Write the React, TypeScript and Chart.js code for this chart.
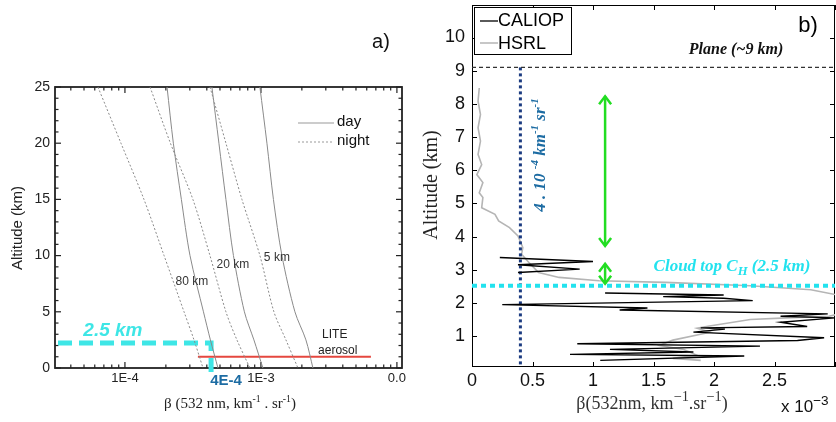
import React, { useEffect, useRef } from 'react';
import { Chart, registerables } from 'chart.js';

Chart.register(...registerables);

const SANS = '"Liberation Sans", Arial, sans-serif';
const SERIF = '"Liberation Serif", "Times New Roman", serif';

// ---------------- Panel a data ----------------
const altitudesA = [25, 20, 15, 10, 5, 2.5, 0];
const day80 = [2.04e-4, 2.27e-4, 2.6e-4, 3.01e-4, 3.78e-4, 4.25e-4, 4.83e-4];
const night80 = [6.33e-5, 9.35e-5, 1.38e-4, 1.94e-4, 2.72e-4, 3.22e-4, 3.75e-4];
const day20 = [4.36e-4, 4.91e-4, 5.53e-4, 6.28e-4, 7.56e-4, 8.88e-4, 1.034e-3];
const night20 = [1.53e-4, 2.16e-4, 3.16e-4, 4.22e-4, 5.53e-4, 6.66e-4, 8.3e-4];
const day5 = [9.83e-4, 1.107e-3, 1.236e-3, 1.427e-3, 1.778e-3, 2.142e-3, 2.412e-3];
const night5 = [4.22e-4, 5.53e-4, 7.25e-4, 9.83e-4, 1.246e-3, 1.527e-3, 1.871e-3];
const liteBeta = [3.44e-4, 6.44e-3];
const liteAlt = [1, 1];
const cloudTopBetaA = [3.22e-5, 4.3e-4, 4.3e-4];
const cloudTopAltA = [2.22, 2.22, -0.35];
const xTickLabelsA: Record<string, string> = { '-4': '1E-4', '-3': '1E-3', '-2': '0.0' };
const xMinA = 3.06e-5;
const xMaxA = 1.09e-2;
const yMinA = 0;
const yMaxA = 25;

// ---------------- Panel b data (beta in units of 1e-3) ----------------
const caliopBeta = [0.23, 1.0, 0.38, 0.89, 0.38, null, 1.1, 2.08, 1.58, 2.08, 2.32, 0.25, 1.45, 1.22, 2.94, 2.55, 3.0, 2.55, 2.77, 1.89, 2.09, 1.83, 2.91, 2.69, 0.87, 2.38, 1.14, 1.83, 0.81, 2.25, 1.06];
const caliopAlt = [3.37, 3.25, 3.15, 3.02, 2.92, null, 2.3, 2.24, 2.19, 2.14, 2.07, 1.95, 1.85, 1.79, 1.67, 1.6, 1.55, 1.42, 1.29, 1.25, 1.21, 1.12, 0.95, 0.87, 0.77, 0.7, 0.6, 0.52, 0.45, 0.4, 0.27];
const hsrlAlt = [8.48, 8.08, 7.68, 7.28, 6.88, 6.48, 6.17, 5.87, 5.63, 5.32, 5.18, 4.87, 4.67, 4.47, 4.27, 4.02, 3.67, 3.47, 3.22, 2.92, 2.77, 2.67, 2.62, 2.52, 2.4, 2.22, 1.95, 1.68, 1.6, 1.55, 1.5, 1.3, 1.24, 1.12, 0.88, 0.72, 0.6, 0.42, 0.33, 0.27];
const hsrlBeta = [0.06, 0.05, 0.07, 0.05, 0.07, 0.05, 0.08, 0.04, 0.09, 0.06, 0.09, 0.08, 0.19, 0.22, 0.31, 0.38, 0.42, 0.41, 0.47, 0.55, 0.72, 1.05, 1.6, 2.3, 2.8, 3.05, 3.3, 3.05, 2.95, 2.6, 2.3, 1.95, 1.86, 1.97, 1.66, 1.55, 1.75, 1.86, 1.66, 1.89];
const planeAlt = 9.1;
const cloudTopAltB = 2.52;
const thresholdBeta = 0.4;
const arrowBeta = 1.1;
const arrowLong = [3.72, 8.23];
const arrowShort = [2.58, 3.18];
const xTicksB = [0, 0.5, 1, 1.5, 2, 2.5, 3];
const yTicksB = [1, 2, 3, 4, 5, 6, 7, 8, 9, 10];
const xMinB = 0;
const xMaxB = 3;
const yMinB = 0.07;
const yMaxB = 10.98;

type Seg = { t: string; s?: 'sup' | 'sub' };

function drawRich(ctx: CanvasRenderingContext2D, segs: Seg[], x: number, y: number, size: number, family: string, style: string, align: 'center' | 'left', subScale = 0.65) {
  let w = 0;
  const parts = segs.map((seg) => {
    const sz = seg.s ? size * subScale : size;
    ctx.font = `${style} ${sz}px ${family}`;
    const mw = ctx.measureText(seg.t).width;
    w += mw;
    return { seg, sz, mw };
  });
  let cx = align === 'center' ? x - w / 2 : x;
  ctx.textAlign = 'left';
  ctx.textBaseline = 'alphabetic';
  for (const p of parts) {
    ctx.font = `${style} ${p.sz}px ${family}`;
    const dy = p.seg.s === 'sup' ? -size * 0.42 : p.seg.s === 'sub' ? size * 0.22 : 0;
    ctx.fillText(p.seg.t, cx, y + dy);
    cx += p.mw;
  }
}

function line(ctx: CanvasRenderingContext2D, x1: number, y1: number, x2: number, y2: number) {
  ctx.beginPath();
  ctx.moveTo(x1, y1);
  ctx.lineTo(x2, y2);
  ctx.stroke();
}

const pts = (xs: (number | null)[], ys: (number | null)[]) => xs.map((v, i) => ({ x: v, y: ys[i] }));

const noPad = (s: any) => {
  s.paddingTop = 0;
  s.paddingBottom = 0;
  s.paddingLeft = 0;
  s.paddingRight = 0;
};

// ---------------- Panel a ----------------
const decorA = {
  id: 'decorA',
  beforeDatasetsDraw(chart: any) {
    const { ctx, chartArea: ca, scales } = chart;
    const x = scales.x;
    const y = scales.y;
    ctx.save();
    ctx.strokeStyle = '#222';
    ctx.lineWidth = 1.2;
    for (let n = -5; n <= -1; n++) {
      for (let k = 1; k <= 9; k++) {
        const v = k * Math.pow(10, n);
        if (v < xMinA || v > xMaxA) continue;
        const px = x.getPixelForValue(v);
        const len = k === 1 ? 6 : 3.5;
        line(ctx, px, ca.bottom, px, ca.bottom - len);
        line(ctx, px, ca.top, px, ca.top + len);
      }
    }
    for (let a = yMinA; a <= yMaxA; a++) {
      const py = y.getPixelForValue(a);
      const len = a % 5 === 0 ? 6 : 3.5;
      line(ctx, ca.left, py, ca.left + len, py);
      line(ctx, ca.right, py, ca.right - len, py);
    }
    ctx.lineWidth = 1.8;
    ctx.strokeRect(ca.left, ca.top, ca.right - ca.left, ca.bottom - ca.top);
    ctx.restore();
  },
  afterDraw(chart: any) {
    const { ctx, chartArea: ca, scales } = chart;
    const x = scales.x;
    const y = scales.y;
    ctx.save();
    // legend
    ctx.strokeStyle = '#999';
    ctx.lineWidth = 1;
    line(ctx, 298, 123, 334, 123);
    ctx.setLineDash([2, 2]);
    line(ctx, 298, 142, 334, 142);
    ctx.setLineDash([]);
    ctx.fillStyle = '#111';
    ctx.font = `15px ${SANS}`;
    ctx.textAlign = 'left';
    ctx.textBaseline = 'middle';
    ctx.fillText('day', 337, 122);
    ctx.fillText('night', 337, 141);
    // curve labels
    ctx.fillStyle = '#333';
    ctx.font = `12px ${SANS}`;
    ctx.textAlign = 'center';
    ctx.fillText('80 km', x.getPixelForValue(3.11e-4), y.getPixelForValue(7.65));
    ctx.fillText('20 km', x.getPixelForValue(6.22e-4), y.getPixelForValue(9.16));
    ctx.fillText('5 km', x.getPixelForValue(1.31e-3), y.getPixelForValue(9.79));
    ctx.fillStyle = '#222';
    ctx.fillText('LITE', x.getPixelForValue(3.49e-3), y.getPixelForValue(2.94));
    ctx.fillText('aerosol', x.getPixelForValue(3.67e-3), y.getPixelForValue(1.51));
    // cyan annotation
    ctx.fillStyle = '#3ee6e6';
    ctx.font = `italic bold 19px ${SANS}`;
    ctx.fillText('2.5 km', x.getPixelForValue(8.16e-5), y.getPixelForValue(3.3));
    // 4E-4
    ctx.fillStyle = '#1d6ca3';
    ctx.font = `bold 15px ${SANS}`;
    ctx.fillText('4E-4', x.getPixelForValue(4.3e-4) + 15, ca.bottom + 13);
    // panel letter
    ctx.fillStyle = '#111';
    ctx.font = `20px ${SANS}`;
    ctx.fillText('a)', 381, 42);
    // axis titles
    ctx.save();
    ctx.translate(18, 228);
    ctx.rotate(-Math.PI / 2);
    ctx.font = `15px ${SANS}`;
    ctx.fillStyle = '#222';
    ctx.textAlign = 'center';
    ctx.textBaseline = 'middle';
    ctx.fillText('Altitude (km)', 0, 0);
    ctx.restore();
    ctx.fillStyle = '#222';
    drawRich(ctx, [{ t: 'β (532 nm, km' }, { t: '-1', s: 'sup' }, { t: ' . sr' }, { t: '-1', s: 'sup' }, { t: ')' }], 230, 408, 15, SERIF, '', 'center');
    ctx.restore();
  },
};

function PanelA() {
  const ref = useRef<HTMLCanvasElement>(null);
  useEffect(() => {
    const gray = '#8a8a8a';
    const curve = (data: number[], dashed: boolean, label: string) => ({
      label,
      data: pts(data, altitudesA),
      showLine: true,
      borderColor: gray,
      borderWidth: 1,
      borderDash: dashed ? [2, 2] : [],
      pointRadius: 0,
      tension: 0.3,
    });
    const chart = new Chart(ref.current as HTMLCanvasElement, {
      type: 'scatter',
      data: {
        datasets: [
          curve(day80, false, 'day 80 km'),
          curve(night80, true, 'night 80 km'),
          curve(day20, false, 'day 20 km'),
          curve(night20, true, 'night 20 km'),
          curve(day5, false, 'day 5 km'),
          curve(night5, true, 'night 5 km'),
          {
            label: 'LITE aerosol',
            data: pts(liteBeta, liteAlt),
            showLine: true,
            borderColor: '#e5473f',
            borderWidth: 2,
            pointRadius: 0,
          },
          {
            label: 'cloud top',
            data: pts(cloudTopBetaA, cloudTopAltA),
            showLine: true,
            borderColor: '#3ee6e6',
            borderWidth: 5,
            borderDash: [14, 7],
            pointRadius: 0,
            clip: false,
          },
        ] as any,
      },
      options: {
        responsive: false,
        animation: false,
        devicePixelRatio: 1,
        layout: { padding: { left: 0, right: 16, top: 87, bottom: 0 } },
        plugins: { legend: { display: false }, tooltip: { enabled: false } },
        scales: {
          x: {
            type: 'logarithmic',
            min: xMinA,
            max: xMaxA,
            grid: { display: false, drawTicks: false },
            border: { display: false },
            ticks: {
              autoSkip: false,
              maxRotation: 0,
              padding: 3,
              color: '#222',
              font: { size: 13, family: SANS },
              callback: (v: any) => {
                const l = Math.log10(Number(v));
                const r = Math.round(l);
                return Math.abs(l - r) < 1e-6 ? xTickLabelsA[String(r)] ?? '' : '';
              },
            },
            afterFit: (s: any) => {
              s.height = 54;
              noPad(s);
            },
          },
          y: {
            type: 'linear',
            min: yMinA,
            max: yMaxA,
            grid: { display: false, drawTicks: false },
            border: { display: false },
            ticks: { stepSize: 5, padding: 5, color: '#222', font: { size: 14, family: SANS } },
            afterFit: (s: any) => {
              s.width = 55;
              noPad(s);
            },
          },
        } as any,
      },
      plugins: [decorA],
    });
    return () => chart.destroy();
  }, []);
  return <canvas ref={ref} width={418} height={422} style={{ display: 'block', width: 418, height: 422 }} />;
}

// ---------------- Panel b ----------------
function arrowHead(ctx: CanvasRenderingContext2D, px: number, py: number, up: boolean) {
  const d = up ? 1 : -1;
  ctx.beginPath();
  ctx.moveTo(px - 6, py + d * 8);
  ctx.lineTo(px, py);
  ctx.lineTo(px + 6, py + d * 8);
  ctx.stroke();
}

const decorB = {
  id: 'decorB',
  beforeDatasetsDraw(chart: any) {
    const { ctx, chartArea: ca, scales } = chart;
    const x = scales.x;
    const y = scales.y;
    ctx.save();
    ctx.strokeStyle = '#000';
    ctx.lineWidth = 1;
    for (const v of xTicksB) {
      const px = Math.round(x.getPixelForValue(v)) + 0.5;
      line(ctx, px, ca.bottom, px, ca.bottom - 5);
      line(ctx, px, ca.top, px, ca.top + 5);
    }
    for (const v of yTicksB) {
      const py = Math.round(y.getPixelForValue(v)) + 0.5;
      line(ctx, ca.left, py, ca.left + 5, py);
      line(ctx, ca.right, py, ca.right - 5, py);
    }
    ctx.strokeRect(ca.left + 0.5, ca.top + 0.5, ca.right - ca.left - 1, ca.bottom - ca.top - 1);
    ctx.restore();
  },
  afterDatasetsDraw(chart: any) {
    const { ctx, scales } = chart;
    const x = scales.x;
    const y = scales.y;
    ctx.save();
    ctx.strokeStyle = '#22dd22';
    ctx.lineWidth = 2.5;
    const px = x.getPixelForValue(arrowBeta);
    arrowHead(ctx, px, y.getPixelForValue(arrowLong[1]), true);
    arrowHead(ctx, px, y.getPixelForValue(arrowLong[0]), false);
    arrowHead(ctx, px, y.getPixelForValue(arrowShort[1]), true);
    arrowHead(ctx, px, y.getPixelForValue(arrowShort[0]), false);
    ctx.restore();
  },
  afterDraw(chart: any) {
    const { ctx, chartArea: ca } = chart;
    ctx.save();
    // legend box
    ctx.fillStyle = '#fff';
    ctx.fillRect(56.5, 7.5, 97, 47);
    ctx.strokeStyle = '#000';
    ctx.lineWidth = 1;
    ctx.strokeRect(56.5, 7.5, 97, 47);
    ctx.lineWidth = 1.3;
    line(ctx, 62, 21, 80, 21);
    ctx.strokeStyle = '#b5b5b5';
    ctx.lineWidth = 1.5;
    line(ctx, 62, 43, 80, 43);
    ctx.fillStyle = '#000';
    ctx.font = `18px ${SANS}`;
    ctx.textAlign = 'left';
    ctx.textBaseline = 'middle';
    ctx.fillText('CALIOP', 80, 21);
    ctx.fillText('HSRL', 80, 44);
    // panel letter
    ctx.font = `22px ${SANS}`;
    ctx.textAlign = 'center';
    ctx.fillText('b)', 390, 26);
    // plane
    ctx.fillStyle = '#111';
    ctx.font = `italic bold 16px ${SERIF}`;
    ctx.fillText('Plane (~9 km)', 318, 50);
    // cloud top
    ctx.fillStyle = '#22e2ee';
    drawRich(ctx, [{ t: 'Cloud top C' }, { t: 'H', s: 'sub' }, { t: ' (2.5 km)' }], 314, 271, 17, SERIF, 'italic bold', 'center', 0.75);
    // rotated threshold label
    ctx.save();
    ctx.translate(127, 155);
    ctx.rotate(-Math.PI / 2);
    ctx.fillStyle = '#1d6ca3';
    drawRich(ctx, [{ t: '4 . 10 ' }, { t: '-4', s: 'sup' }, { t: ' km' }, { t: '-1', s: 'sup' }, { t: ' sr' }, { t: '-1', s: 'sup' }], 0, 0, 17, SERIF, 'italic bold', 'center');
    ctx.restore();
    // y title
    ctx.save();
    ctx.translate(14, 185);
    ctx.rotate(-Math.PI / 2);
    ctx.fillStyle = '#222';
    ctx.font = `20px ${SERIF}`;
    ctx.textAlign = 'center';
    ctx.textBaseline = 'middle';
    ctx.fillText('Altitude (km)', 0, 0);
    ctx.restore();
    // x title
    ctx.fillStyle = '#333';
    drawRich(ctx, [{ t: 'β(532nm, km' }, { t: '−1', s: 'sup' }, { t: '.sr' }, { t: '−1', s: 'sup' }, { t: ')' }], 234, 409, 18, SERIF, '', 'center', 0.8);
    // exponent
    ctx.fillStyle = '#111';
    drawRich(ctx, [{ t: 'x 10' }, { t: '−3', s: 'sup' }], ca.right - 54, 412, 17, SANS, '', 'left', 0.8);
    ctx.restore();
  },
};

function PanelB() {
  const ref = useRef<HTMLCanvasElement>(null);
  useEffect(() => {
    const chart = new Chart(ref.current as HTMLCanvasElement, {
      type: 'scatter',
      data: {
        datasets: [
          {
            label: 'CALIOP',
            data: pts(caliopBeta, caliopAlt),
            showLine: true,
            borderColor: '#000',
            borderWidth: 1.4,
            pointRadius: 0,
            spanGaps: false,
            order: 1,
          },
          {
            label: 'HSRL',
            data: pts(hsrlBeta, hsrlAlt),
            showLine: true,
            borderColor: '#b5b5b5',
            borderWidth: 1.6,
            pointRadius: 0,
            order: 4,
          },
          {
            label: 'cloud top',
            data: pts([xMinB, xMaxB], [cloudTopAltB, cloudTopAltB]),
            showLine: true,
            borderColor: '#22e2ee',
            borderWidth: 4,
            borderDash: [5, 4],
            pointRadius: 0,
            order: 2,
          },
          {
            label: 'plane',
            data: pts([xMinB, xMaxB], [planeAlt, planeAlt]),
            showLine: true,
            borderColor: '#333',
            borderWidth: 1.3,
            borderDash: [4, 3],
            pointRadius: 0,
            order: 3,
          },
          {
            label: 'threshold',
            data: pts([thresholdBeta, thresholdBeta], [planeAlt, yMinB]),
            showLine: true,
            borderColor: '#1b3b80',
            borderWidth: 3,
            borderDash: [3, 3],
            pointRadius: 0,
            order: 3,
          },
          {
            label: 'arrow long',
            data: pts([arrowBeta, arrowBeta], arrowLong),
            showLine: true,
            borderColor: '#22dd22',
            borderWidth: 2.5,
            pointRadius: 0,
            order: 0,
          },
          {
            label: 'arrow short',
            data: pts([arrowBeta, arrowBeta], arrowShort),
            showLine: true,
            borderColor: '#22dd22',
            borderWidth: 2.5,
            pointRadius: 0,
            order: 0,
          },
        ] as any,
      },
      options: {
        responsive: false,
        animation: false,
        devicePixelRatio: 1,
        layout: { padding: { left: 0, right: 1, top: 5, bottom: 0 } },
        plugins: { legend: { display: false }, tooltip: { enabled: false } },
        scales: {
          x: {
            type: 'linear',
            min: xMinB,
            max: xMaxB,
            grid: { display: false, drawTicks: false },
            border: { display: false },
            ticks: {
              stepSize: 0.5,
              autoSkip: false,
              maxRotation: 0,
              padding: 3,
              color: '#111',
              font: { size: 18, family: SANS },
              callback: (v: any) => (Number(v) >= xMaxB ? '' : String(Number(v))),
            },
            afterFit: (s: any) => {
              s.height = 55;
              noPad(s);
            },
          },
          y: {
            type: 'linear',
            min: yMinB,
            max: yMaxB,
            grid: { display: false, drawTicks: false },
            border: { display: false },
            ticks: {
              stepSize: 1,
              includeBounds: false,
              padding: 7,
              color: '#111',
              font: { size: 18, family: SANS },
              callback: (v: any) => (Number(v) > 10 ? '' : String(Number(v))),
            },
            afterFit: (s: any) => {
              s.width = 54;
              noPad(s);
            },
          },
        } as any,
      },
      plugins: [decorB],
    });
    return () => chart.destroy();
  }, []);
  return <canvas ref={ref} width={418} height={422} style={{ display: 'block', width: 418, height: 422 }} />;
}

export default function App() {
  return (
    <div style={{ position: 'absolute', left: 0, top: 0, width: 836, height: 422, background: '#fff', overflow: 'hidden' }}>
      <div style={{ position: 'absolute', left: 0, top: 0, width: 418, height: 422 }}>
        <PanelA />
      </div>
      <div style={{ position: 'absolute', left: 418, top: 0, width: 418, height: 422 }}>
        <PanelB />
      </div>
    </div>
  );
}
